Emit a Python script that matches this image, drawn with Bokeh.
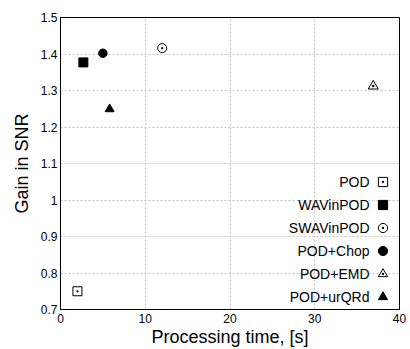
from bokeh.plotting import figure
from bokeh.models import Legend, LegendItem, Label, FixedTicker
from bokeh.embed import file_html
from bokeh.resources import INLINE

# ---- data ----
methods = ["POD", "WAVinPOD", "SWAVinPOD", "POD+Chop", "POD+EMD", "POD+urQRd"]
proc_time = [2.0, 2.7, 12.0, 5.0, 36.9, 5.8]
snr_gain = [0.75, 1.377, 1.416, 1.402, 1.312, 1.249]
x_ticks = [0, 10, 20, 30, 40]
y_ticks = [0.7, 0.8, 0.9, 1.0, 1.1, 1.2, 1.3, 1.4, 1.5]

# ---- styles ----
marker_types = ["square_dot", "square", "circle_dot", "circle", "triangle_dot", "triangle"]
filled = [False, True, False, True, False, True]
marker_sizes = [9, 9, 9, 8.5, 10, 9]
FONT = "Liberation Sans"

p = figure(width=410, height=349, x_range=(0, 40), y_range=(0.7, 1.5),
           output_backend="svg", toolbar_location=None,
           min_border_left=60, min_border_right=11, min_border_top=17, min_border_bottom=39)

p.outline_line_color = "black"
p.outline_line_width = 1
p.outline_line_alpha = 1

p.xaxis.ticker = FixedTicker(ticks=x_ticks)
p.yaxis.ticker = FixedTicker(ticks=y_ticks)
p.yaxis.major_label_overrides = {1.0: "1"}
p.xgrid.ticker = FixedTicker(ticks=x_ticks)
p.ygrid.ticker = FixedTicker(ticks=y_ticks)

for ax in (p.xaxis, p.yaxis):
    ax.major_tick_in = 0
    ax.major_tick_out = 0
    ax.minor_tick_in = 0
    ax.minor_tick_out = 0
    ax.axis_line_color = "black"
    ax.major_label_text_font = FONT
    ax.major_label_text_font_size = "12px"
    ax.major_label_text_color = "black"
    ax.axis_label_text_font = FONT
    ax.axis_label_text_font_size = "18px"
    ax.axis_label_text_font_style = "normal"
    ax.axis_label_text_color = "black"

p.xaxis.axis_label = "Processing time, [s]"
p.yaxis.axis_label = "Gain in SNR"
p.xaxis.major_label_standoff = 4
p.xaxis.axis_label_standoff = 1
p.yaxis.major_label_standoff = 3
p.yaxis.axis_label_standoff = 6

p.grid.grid_line_color = "#c4c4c4"
p.grid.grid_line_dash = "2 2"
p.grid.grid_line_width = 1

renderers = []
for i, name in enumerate(methods):
    r = p.scatter(x=[proc_time[i]], y=[snr_gain[i]], marker=marker_types[i],
                  size=marker_sizes[i], line_color="black", line_width=1,
                  fill_color="black" if filled[i] else "white")
    renderers.append(r)

legend = Legend(items=[LegendItem(label=" ", renderers=[r]) for r in renderers],
                location=(310, 1), padding=0, margin=0, spacing=0,
                glyph_width=25, glyph_height=23, label_standoff=0,
                label_width=0, label_height=0, label_text_font_size="1px",
                border_line_color=None, background_fill_alpha=0)
p.add_layout(legend)

row_h = 23
for i, name in enumerate(methods):
    y = 13 + (len(methods) - 1 - i) * row_h
    p.add_layout(Label(x=309, y=y, x_units="screen", y_units="screen", text=name,
                       text_align="right", text_baseline="middle",
                       text_font=FONT, text_font_size="14px", text_color="black"))

open("out.html", "w").write(file_html(p, INLINE))
